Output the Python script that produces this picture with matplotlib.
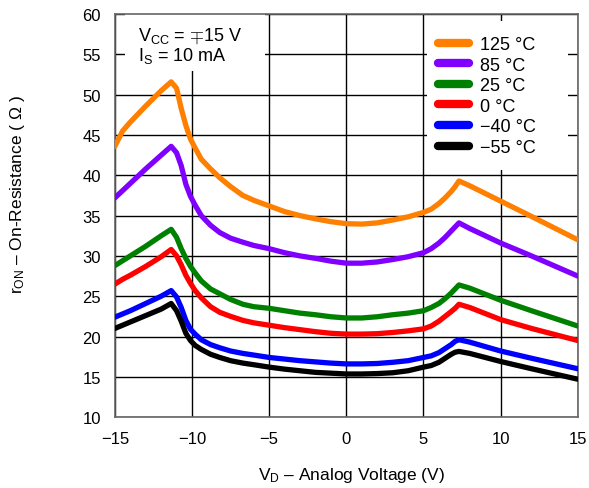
import numpy as np
import matplotlib
matplotlib.use('Agg')
from matplotlib import pyplot as plt
from matplotlib.patches import Rectangle

plt.rcParams['font.family'] = ['Liberation Sans', 'DejaVu Sans']
plt.rcParams['mathtext.fontset'] = 'custom'
plt.rcParams['mathtext.rm'] = 'Liberation Sans'
plt.rcParams['mathtext.it'] = 'Liberation Sans:italic'

#### DATA ####
vd = [-15, -14.5, -14, -13, -12, -11.35, -11.0, -10.7, -10.4, -10.1, -9.8, -9.4,
      -8.8, -8.2, -7.5, -6.7, -6, -5, -4, -3, -2, -1, 0, 1, 2, 3, 4, 5, 5.5, 6,
      6.4, 6.8, 7.05, 7.3, 8, 10, 12, 15]

r_125 = [43.6, 45.5, 46.6, 48.6, 50.5, 51.6, 50.8, 48.3, 46.2, 44.5, 43.4, 42.0,
         40.8, 39.7, 38.6, 37.5, 36.9, 36.2, 35.5, 35.0, 34.6, 34.25, 34.0, 33.95,
         34.1, 34.45, 34.85, 35.4, 35.8, 36.5, 37.2, 38.0, 38.6, 39.3, 38.7, 36.8,
         34.9, 32.0]
r_85 = [37.2, 38.1, 39.0, 40.8, 42.5, 43.6, 42.8, 41.2, 38.9, 37.4, 36.3, 35.0,
        33.8, 32.9, 32.2, 31.7, 31.3, 30.9, 30.4, 30.0, 29.7, 29.35, 29.1, 29.1,
        29.25, 29.55, 29.9, 30.4, 30.9, 31.6, 32.3, 33.1, 33.6, 34.1, 33.4, 31.6,
        30.0, 27.5]
r_25 = [28.8, 29.4, 30.0, 31.2, 32.5, 33.3, 32.3, 30.9, 29.7, 28.7, 27.9, 26.9,
        25.9, 25.3, 24.6, 24.0, 23.7, 23.5, 23.2, 22.9, 22.7, 22.45, 22.3, 22.3,
        22.45, 22.7, 22.9, 23.2, 23.6, 24.1, 24.7, 25.4, 25.9, 26.4, 26.0, 24.5,
        23.2, 21.3]
r_0 = [26.5, 27.1, 27.6, 28.7, 29.9, 30.8, 30.0, 28.9, 27.6, 26.6, 25.7, 24.8,
       23.7, 23.0, 22.5, 22.0, 21.7, 21.4, 21.1, 20.85, 20.6, 20.4, 20.3, 20.3,
       20.35, 20.5, 20.7, 20.95, 21.3, 21.9, 22.5, 23.1, 23.5, 24.0, 23.6, 22.1,
       21.0, 19.5]
r_m40 = [22.4, 22.8, 23.2, 24.1, 25.0, 25.7, 24.9, 23.6, 22.0, 20.9, 20.3, 19.6,
         19.0, 18.6, 18.2, 17.9, 17.7, 17.4, 17.2, 17.0, 16.85, 16.7, 16.6, 16.6,
         16.65, 16.8, 17.0, 17.4, 17.6, 18.0, 18.5, 19.0, 19.4, 19.6, 19.3, 18.2,
         17.3, 16.0]
r_m55 = [21.0, 21.4, 21.8, 22.6, 23.4, 24.1, 23.2, 21.9, 20.4, 19.5, 18.9, 18.4,
         17.8, 17.4, 17.0, 16.7, 16.5, 16.2, 15.95, 15.75, 15.55, 15.45, 15.35, 15.35,
         15.4, 15.5, 15.75, 16.2, 16.4, 16.8, 17.3, 17.8, 18.05, 18.15, 17.9, 16.9,
         16.0, 14.7]

labels = ['125 \u00b0C', '85 \u00b0C', '25 \u00b0C', '0 \u00b0C', '\u221240 \u00b0C', '\u221255 \u00b0C']
colors = ['#ff8000', '#8000ff', '#008000', '#ff0000', '#0000ff', '#000000']
series = [r_125, r_85, r_25, r_0, r_m40, r_m55]

fig = plt.figure(figsize=(5.89, 4.89), dpi=100)
ax = fig.add_axes([0.195, 0.145, 0.786, 0.824])

for vals, col, lab in zip(series, colors, labels):
    ax.plot(vd, vals, color=col, lw=3.8, label=lab, zorder=3,
            solid_joinstyle='round', solid_capstyle='round')

ax.set_xlim(-15, 15)
ax.set_ylim(10, 60)
ax.set_xticks(np.arange(-15, 16, 5))
ax.set_yticks(np.arange(10, 61, 5))
ax.set_axisbelow(True)
ax.grid(True, color='black', lw=1.0)
ax.tick_params(length=0, labelsize=12, pad=10)
for s in ax.spines.values():
    s.set_color('#666666')
    s.set_linewidth(1.2)

# white boxes behind annotation and legend
ax.add_patch(Rectangle((0.022, 0.859), 0.302, 0.141, transform=ax.transAxes,
                       facecolor='white', edgecolor='none', zorder=1))
ax.add_patch(Rectangle((0.674, 0.613), 0.304, 0.370, transform=ax.transAxes,
                       facecolor='white', edgecolor='none', zorder=1))

ax.text(0.05, 0.972, 'V$_{\\mathregular{CC}}$ = $\\mp$15 V\nI$_{\\mathregular{S}}$ = 10 mA',
        transform=ax.transAxes, fontsize=13, va='top', ha='left',
        linespacing=1.0, zorder=4)

leg = ax.legend(loc='upper left', bbox_to_anchor=(0.698, 0.946), frameon=False,
                fontsize=13, handlelength=1.7, handletextpad=0.6,
                labelspacing=0.2, borderpad=0, borderaxespad=0)
for ln in leg.get_lines():
    ln.set_linewidth(6)
    ln.set_solid_capstyle('round')

ax.set_xlabel('V$_{\\mathregular{D}}$ \u2013 Analog Voltage (V)', fontsize=12.5)
ax.set_ylabel('r$_{\\mathregular{ON}}$ \u2013 On-Resistance ( \u03a9 )', fontsize=12.5)
ax.xaxis.set_label_coords(0.512, -0.12)
ax.yaxis.set_label_coords(-0.19, 0.555)

fig.savefig('out.png', dpi=100)
